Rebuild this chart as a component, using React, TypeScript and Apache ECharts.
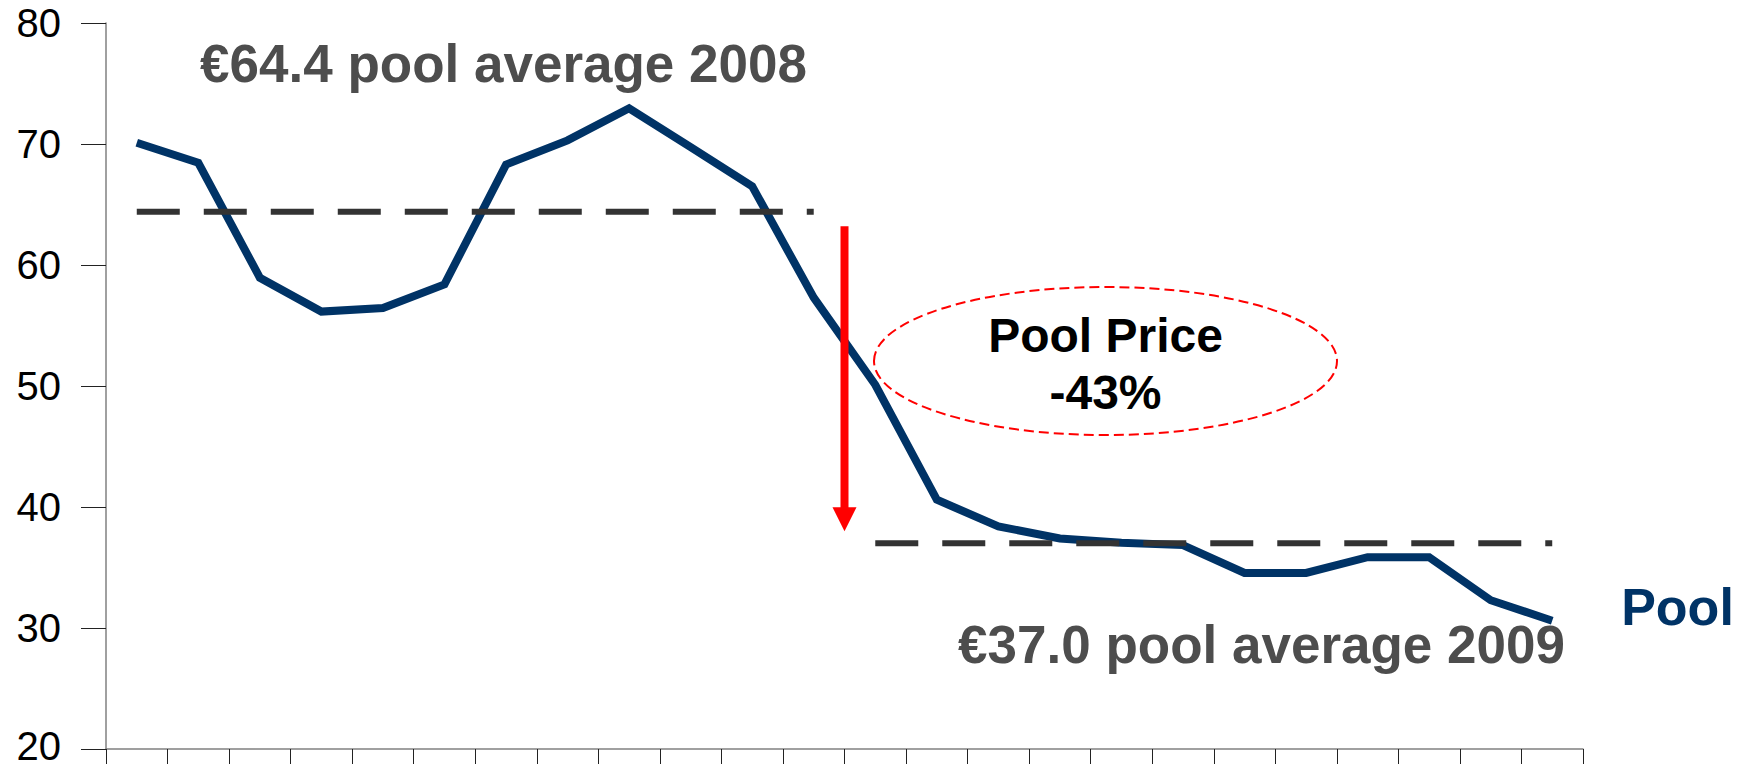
import React, { useEffect, useRef } from "react";
import * as echarts from "echarts";

const months = [
  "Jan 08", "Feb 08", "Mar 08", "Apr 08", "May 08", "Jun 08",
  "Jul 08", "Aug 08", "Sep 08", "Oct 08", "Nov 08", "Dec 08",
  "Jan 09", "Feb 09", "Mar 09", "Apr 09", "May 09", "Jun 09",
  "Jul 09", "Aug 09", "Sep 09", "Oct 09", "Nov 09", "Dec 09",
];

const poolPrice = [
  70.1, 68.45, 58.95, 56.15, 56.45, 58.4, 68.3, 70.3, 72.95, 69.75, 66.5, 57.3,
  50.1, 40.6, 38.4, 37.4, 37.05, 36.85, 34.55, 34.55, 35.85, 35.85, 32.3, 30.6,
];

const avg2008 = 64.4;
const avg2009 = 37.0;
const months2008 = 12;

const yMin = 20;
const yMax = 80;
const yStep = 10;

const arrowX = 11.5;
const arrowFrom = 63.2;
const arrowTo = 38.0;

const label2008 = "€64.4 pool average 2008";
const label2009 = "€37.0 pool average 2009";
const seriesLabel = "Pool";
const changeLines = ["Pool Price", "-43%"];

const NAVY = "#003366";
const GREY_TEXT = "#4d4d4d";
const DASH = "#333333";
const RED = "#ff0000";
const FONT = "'Liberation Sans', Arial, sans-serif";

export default function App() {
  const ref = useRef<HTMLDivElement>(null);

  useEffect(() => {
    if (!ref.current) return;
    const chart = echarts.init(ref.current, null, { renderer: "svg" });

    const avg08Data = months.map((_, i) => (i < months2008 ? avg2008 : "-"));
    const avg09Data = months.map((_, i) => (i >= months2008 ? avg2009 : "-"));

    chart.setOption({
      animation: false,
      grid: {
        left: 106,
        right: 168,
        top: 23,
        bottom: 19,
        containLabel: false,
        outerBoundsMode: "none",
      },
      xAxis: [
        {
          type: "category",
          data: months,
          boundaryGap: true,
          axisLine: { show: true, onZero: false, lineStyle: { color: "#808080", width: 1.5 } },
          axisTick: {
            show: true,
            interval: 0,
            length: 15,
            inside: false,
            lineStyle: { color: "#222222", width: 1 },
          },
          axisLabel: { show: false },
          splitLine: { show: false },
        },
        {
          type: "value",
          min: -0.5,
          max: months.length - 0.5,
          show: false,
          axisLine: { onZero: false },
        },
      ],
      yAxis: {
        type: "value",
        min: yMin,
        max: yMax,
        interval: yStep,
        axisLine: { show: true, onZero: false, lineStyle: { color: "#808080", width: 1.5 } },
        axisTick: {
          show: true,
          length: 25,
          inside: false,
          lineStyle: { color: "#222222", width: 1 },
        },
        axisLabel: {
          show: true,
          margin: 45,
          color: "#000000",
          fontSize: 40,
          lineHeight: 30,
          fontFamily: FONT,
          formatter: (v: number) => (v === yMin ? `{low|${v}}` : `${v}`),
          rich: {
            low: {
              fontSize: 40,
              lineHeight: 30,
              fontFamily: FONT,
              color: "#000000",
              padding: [0, 0, 6, 0],
            },
          },
        },
        splitLine: { show: false },
      },
      series: [
        {
          name: "Pool",
          type: "line",
          data: poolPrice,
          symbol: "none",
          lineStyle: { color: NAVY, width: 8, join: "miter" },
          z: 2,
        },
        {
          name: "avg2008",
          type: "line",
          data: avg08Data,
          symbol: "none",
          lineStyle: { color: DASH, width: 6, type: [43, 24], cap: "butt" },
          z: 3,
        },
        {
          name: "avg2009",
          type: "line",
          data: avg09Data,
          symbol: "none",
          lineStyle: { color: DASH, width: 6, type: [43, 24], cap: "butt" },
          z: 3,
        },
      ],
    });

    const top = chart.convertToPixel({ xAxisIndex: 1, yAxisIndex: 0 }, [arrowX, arrowFrom]) as number[];
    const tip = chart.convertToPixel({ xAxisIndex: 1, yAxisIndex: 0 }, [arrowX, arrowTo]) as number[];
    const headH = 24;
    const headW = 24;
    const shaftW = 8;

    chart.setOption({
      graphic: [
        {
          type: "rect",
          shape: { x: top[0] - shaftW / 2, y: top[1], width: shaftW, height: tip[1] - headH - top[1] + 1 },
          style: { fill: RED },
          z: 100,
        },
        {
          type: "polygon",
          shape: {
            points: [
              [tip[0] - headW / 2, tip[1] - headH],
              [tip[0] + headW / 2, tip[1] - headH],
              [tip[0], tip[1]],
            ],
          },
          style: { fill: RED },
          z: 100,
        },
        {
          type: "ellipse",
          shape: { cx: 1105.5, cy: 361, rx: 231.5, ry: 74 },
          style: { fill: "none", stroke: RED, lineWidth: 2, lineDash: [10, 5] },
          z: 100,
        },
        {
          type: "text",
          x: 1105.5,
          y: 335,
          style: {
            text: changeLines[0],
            fill: "#000000",
            font: `bold 48px ${FONT}`,
            align: "center",
            verticalAlign: "middle",
          },
          z: 101,
        },
        {
          type: "text",
          x: 1105.5,
          y: 392,
          style: {
            text: changeLines[1],
            fill: "#000000",
            font: `bold 48px ${FONT}`,
            align: "center",
            verticalAlign: "middle",
          },
          z: 101,
        },
        {
          type: "text",
          x: 503.5,
          y: 63,
          style: {
            text: label2008,
            fill: GREY_TEXT,
            font: `bold 53px ${FONT}`,
            align: "center",
            verticalAlign: "middle",
          },
          z: 101,
        },
        {
          type: "text",
          x: 1261.5,
          y: 644,
          style: {
            text: label2009,
            fill: GREY_TEXT,
            font: `bold 53px ${FONT}`,
            align: "center",
            verticalAlign: "middle",
          },
          z: 101,
        },
        {
          type: "text",
          x: 1677.5,
          y: 607,
          style: {
            text: seriesLabel,
            fill: NAVY,
            font: `bold 52px ${FONT}`,
            align: "center",
            verticalAlign: "middle",
          },
          z: 101,
        },
      ],
    });

    return () => {
      chart.dispose();
    };
  }, []);

  return (
    <div
      ref={ref}
      style={{ position: "fixed", left: 0, top: 0, width: 1751, height: 768, background: "#ffffff" }}
    />
  );
}
